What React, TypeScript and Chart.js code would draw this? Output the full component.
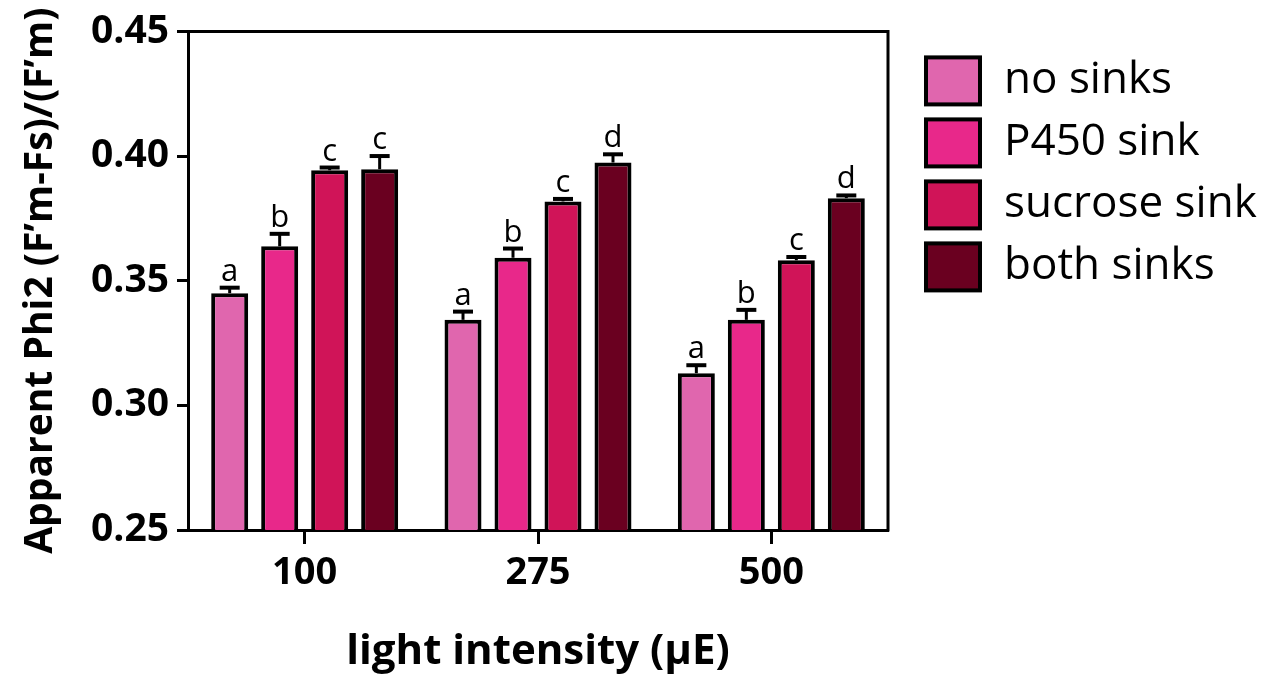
import React, { useEffect, useRef } from 'react';
import { Chart, registerables } from 'chart.js';

Chart.register(...registerables);

const FONT = '"Open Sans", "DejaVu Sans", sans-serif';

const categories = ['100', '275', '500'];
const seriesNames = ['no sinks', 'P450 sink', 'sucrose sink', 'both sinks'];
const seriesColors = ['#E066AE', '#E8288A', '#D01458', '#6A0020'];

const noSinks = [0.345, 0.3343, 0.3129];
const p450Sink = [0.3638, 0.3592, 0.3343];
const sucroseSink = [0.3943, 0.3818, 0.3582];
const bothSinks = [0.3947, 0.3974, 0.3831];

const noSinksErr = [0.0022, 0.0033, 0.0032];
const p450SinkErr = [0.005, 0.0037, 0.004];
const sucroseSinkErr = [0.0011, 0.001, 0.0013];
const bothSinksErr = [0.0053, 0.0033, 0.0011];

const noSinksLetters = ['a', 'a', 'a'];
const p450SinkLetters = ['b', 'b', 'b'];
const sucroseSinkLetters = ['c', 'c', 'c'];
const bothSinksLetters = ['c', 'd', 'd'];

const yTicks = [0.25, 0.3, 0.35, 0.4, 0.45];

const seriesValues = [noSinks, p450Sink, sucroseSink, bothSinks];
const seriesErrors = [noSinksErr, p450SinkErr, sucroseSinkErr, bothSinksErr];
const seriesLetters = [noSinksLetters, p450SinkLetters, sucroseSinkLetters, bothSinksLetters];

const errorBarPlugin = {
  id: 'errorBarsAndLetters',
  afterDatasetsDraw(chart: any) {
    const ctx = chart.ctx;
    const yScale = chart.scales.y;
    chart.data.datasets.forEach((ds: any, di: number) => {
      const meta = chart.getDatasetMeta(di);
      meta.data.forEach((bar: any, i: number) => {
        const v = ds.data[i];
        const e = ds.errors[i];
        const yTop = yScale.getPixelForValue(v + e);
        ctx.save();
        ctx.strokeStyle = '#000';
        ctx.lineWidth = 3;
        ctx.beginPath();
        ctx.moveTo(bar.x, bar.y);
        ctx.lineTo(bar.x, yTop);
        ctx.stroke();
        ctx.lineWidth = 4;
        ctx.beginPath();
        ctx.moveTo(bar.x - 10, yTop);
        ctx.lineTo(bar.x + 10, yTop);
        ctx.stroke();
        ctx.font = `31px ${FONT}`;
        ctx.textAlign = 'center';
        ctx.textBaseline = 'alphabetic';
        ctx.fillStyle = '#000';
        ctx.fillText(ds.letters[i], bar.x, yTop - 7);
        ctx.restore();
      });
    });
  },
};

const framePlugin = {
  id: 'plotFrame',
  afterDraw(chart: any) {
    const { ctx, chartArea } = chart;
    ctx.save();
    ctx.strokeStyle = '#000';
    ctx.lineWidth = 3;
    ctx.lineCap = 'square';
    ctx.beginPath();
    ctx.moveTo(chartArea.left, chartArea.top);
    ctx.lineTo(chartArea.right, chartArea.top);
    ctx.lineTo(chartArea.right, chartArea.bottom);
    ctx.stroke();
    ctx.restore();
  },
};

const legendPlugin = {
  id: 'sideLegend',
  afterDraw(chart: any) {
    const { ctx, chartArea } = chart;
    const boxW = 54;
    const boxH = 47;
    const rowH = 62;
    const x0 = chartArea.right + 38;
    const y0 = chartArea.top + 26;
    ctx.save();
    chart.data.datasets.forEach((ds: any, i: number) => {
      const y = y0 + i * rowH;
      ctx.fillStyle = ds.backgroundColor;
      ctx.fillRect(x0, y, boxW, boxH);
      ctx.strokeStyle = '#000';
      ctx.lineWidth = 4;
      ctx.strokeRect(x0, y, boxW, boxH);
      ctx.fillStyle = '#000';
      ctx.font = `44px ${FONT}`;
      ctx.textAlign = 'left';
      ctx.textBaseline = 'middle';
      ctx.fillText(ds.label, x0 + boxW + 24, y + boxH / 2);
    });
    ctx.restore();
  },
};

export default function App() {
  const canvasRef = useRef<HTMLCanvasElement | null>(null);

  useEffect(() => {
    const canvas = canvasRef.current;
    if (!canvas) return;

    const chart = new Chart(canvas, {
      type: 'bar',
      data: {
        labels: categories,
        datasets: seriesNames.map((name, i) => ({
          label: name,
          data: seriesValues[i],
          errors: seriesErrors[i],
          letters: seriesLetters[i],
          backgroundColor: seriesColors[i],
          borderColor: '#000',
          borderWidth: 4,
          borderSkipped: false,
          barPercentage: 0.74,
          categoryPercentage: 0.857,
        })) as any,
      },
      options: {
        animation: false,
        responsive: true,
        maintainAspectRatio: false,
        layout: { padding: { top: 28, right: 381, bottom: 0, left: 0 } },
        plugins: {
          tooltip: { enabled: false },
          legend: { display: false },
        },
        scales: {
          x: {
            type: 'category',
            grid: {
              display: true,
              drawOnChartArea: false,
              drawTicks: true,
              offset: false,
              tickLength: 14,
              tickWidth: 3,
              tickColor: '#000',
            },
            border: { display: true, color: '#000', width: 3 },
            ticks: {
              color: '#000',
              padding: 6,
              font: { family: FONT, size: 38, weight: 'bold' },
            },
            title: {
              display: true,
              text: 'light intensity (μE)',
              color: '#000',
              font: { family: FONT, size: 42, weight: 'bold' },
              padding: { top: 0, bottom: 0 },
            },
            afterFit: (s: any) => {
              s.height = 147;
            },
          },
          y: {
            type: 'linear',
            min: 0.25,
            max: 0.45,
            afterBuildTicks: (s: any) => {
              s.ticks = yTicks.map((v) => ({ value: v }));
            },
            grid: {
              display: true,
              drawOnChartArea: false,
              drawTicks: true,
              tickLength: 11,
              tickWidth: 3,
              tickColor: '#000',
            },
            border: { display: true, color: '#000', width: 3 },
            ticks: {
              color: '#000',
              padding: 8,
              font: { family: FONT, size: 39, weight: 'bold' },
              callback: (v: any) => Number(v).toFixed(2),
            },
            title: {
              display: true,
              text: 'Apparent Phi2 (F’m-Fs)/(F’m)',
              color: '#000',
              font: { family: FONT, size: 39, weight: 'bold' },
              padding: { top: 17, bottom: 0 },
            },
            afterFit: (s: any) => {
              s.width = 188;
            },
          },
        },
      } as any,
      plugins: [errorBarPlugin, framePlugin, legendPlugin],
    });

    return () => {
      chart.destroy();
    };
  }, []);

  return (
    <div style={{ position: 'fixed', left: 0, top: 0, width: 1269, height: 677, background: '#fff' }}>
      <canvas ref={canvasRef} />
    </div>
  );
}
